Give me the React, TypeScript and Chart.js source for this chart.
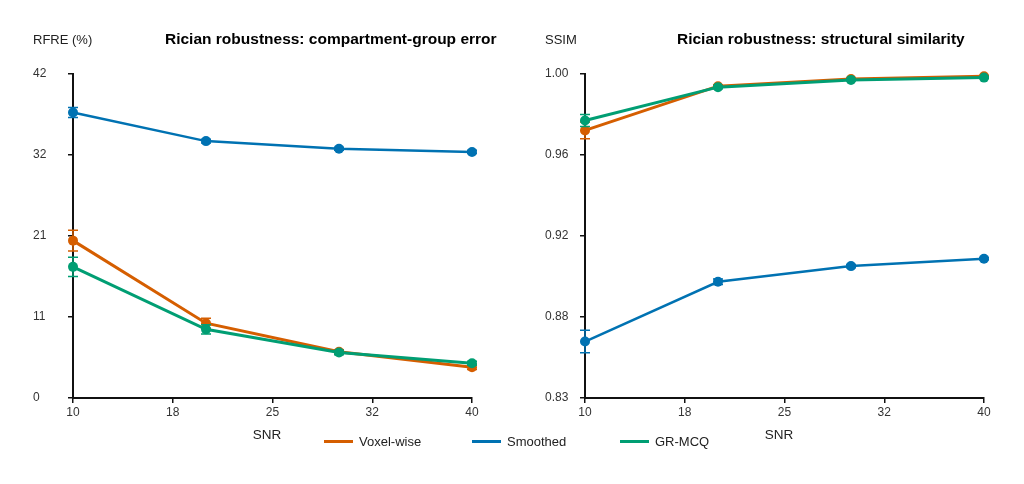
import React, { useEffect, useRef } from 'react';
import { Chart, registerables } from 'chart.js';

Chart.register(...registerables);

const FONT = '"Liberation Sans", Arial, sans-serif';

const snr = [10, 20, 30, 40];
const xTickValues = [10, 17.5, 25, 32.5, 40];
const xTickLabels = ['10', '18', '25', '32', '40'];

const seriesNames = ['Voxel-wise', 'Smoothed', 'GR-MCQ'];
const seriesColors = ['#D55E00', '#0072B2', '#009E73'];

// left panel: RFRE (%)
const rfreTickValues = [0, 10.5, 21, 31.5, 42];
const rfreTickLabels = ['0', '11', '21', '32', '42'];
const voxelRfre = [20.4, 9.7, 6.0, 4.0];
const voxelRfreErr = [1.33, 0.65, 0.25, 0.3];
const smoothedRfre = [37.0, 33.3, 32.3, 31.9];
const smoothedRfreErr = [0.65, 0.25, 0.2, 0.2];
const grRfre = [17.0, 8.9, 5.9, 4.5];
const grRfreErr = [1.25, 0.6, 0.3, 0.25];

// right panel: SSIM
const ssimTickValues = [0.83, 0.8725, 0.915, 0.9575, 1.0];
const ssimTickLabels = ['0.83', '0.88', '0.92', '0.96', '1.00'];
const voxelSsim = [0.9704, 0.9936, 0.9974, 0.9988];
const voxelSsimErr = [0.0044, 0.0008, 0.0005, 0.0004];
const smoothedSsim = [0.8596, 0.891, 0.8992, 0.9031];
const smoothedSsimErr = [0.0059, 0.0015, 0.0008, 0.0006];
const grSsim = [0.9756, 0.9931, 0.9969, 0.9981];
const grSsimErr = [0.0031, 0.0008, 0.0005, 0.0004];

// vertical error bars with caps, drawn right after each dataset
const errorBars = {
  id: 'errorBars',
  afterDatasetDraw(chart: any, args: any) {
    const ds = chart.data.datasets[args.index];
    if (!ds.errors) return;
    const y = chart.scales.y;
    const ctx = chart.ctx;
    ctx.save();
    ctx.strokeStyle = ds.borderColor;
    ctx.lineWidth = 1.5;
    args.meta.data.forEach((pt: any, i: number) => {
      const v = ds.data[i].y;
      const e = ds.errors[i];
      const top = y.getPixelForValue(v + e);
      const bot = y.getPixelForValue(v - e);
      ctx.beginPath();
      ctx.moveTo(pt.x, top);
      ctx.lineTo(pt.x, bot);
      ctx.moveTo(pt.x - 5, top);
      ctx.lineTo(pt.x + 5, top);
      ctx.moveTo(pt.x - 5, bot);
      ctx.lineTo(pt.x + 5, bot);
      ctx.stroke();
    });
    ctx.restore();
  },
};

// y label, panel title and x label placed like the original figure
const panelText = {
  id: 'panelText',
  afterDraw(chart: any, _args: any, opts: any) {
    const ctx = chart.ctx;
    ctx.save();
    ctx.textBaseline = 'middle';
    ctx.textAlign = 'left';
    ctx.fillStyle = '#222';
    ctx.font = `13px ${FONT}`;
    ctx.fillText(opts.yLabel, 33, 40);
    ctx.fillStyle = '#000';
    ctx.font = `bold 15.5px ${FONT}`;
    ctx.fillText(opts.title, 165, 40);
    ctx.fillStyle = '#222';
    ctx.textAlign = 'center';
    ctx.font = `13.5px ${FONT}`;
    ctx.fillText(opts.xLabel, 267, 435);
    ctx.restore();
  },
};

interface PanelProps {
  yLabel: string;
  title: string;
  values: number[][];
  errors: number[][];
  yMin: number;
  yMax: number;
  yTickValues: number[];
  yTickLabels: string[];
}

const Panel: React.FC<PanelProps> = ({ yLabel, title, values, errors, yMin, yMax, yTickValues, yTickLabels }) => {
  const canvasRef = useRef<HTMLCanvasElement>(null);

  useEffect(() => {
    if (!canvasRef.current) return;
    const datasets = seriesNames.map((name, s) => ({
      label: name,
      data: snr.map((x, i) => ({ x, y: values[s][i] })),
      errors: errors[s],
      borderColor: seriesColors[s],
      backgroundColor: seriesColors[s],
      pointBackgroundColor: seriesColors[s],
      pointBorderColor: seriesColors[s],
      pointRadius: 5,
      pointBorderWidth: 0,
      borderWidth: s === 1 ? 2.5 : 3,
      order: 3 - s,
      clip: false as any,
    }));

    const axisCommon = {
      grid: { display: true, drawOnChartArea: false, drawTicks: true, tickLength: 5, color: '#111', lineWidth: 1.5 },
      border: { display: true, color: '#111', width: 2 },
    };

    const chart = new Chart(canvasRef.current, {
      type: 'line',
      data: { datasets: datasets as any },
      options: {
        animation: false,
        responsive: false,
        layout: { padding: { left: 33, right: 40, top: 74, bottom: 56 } },
        plugins: {
          legend: { display: false },
          tooltip: { enabled: false },
          panelText: { yLabel, title, xLabel: 'SNR' },
        } as any,
        scales: {
          x: {
            type: 'linear',
            min: 10,
            max: 40,
            ...axisCommon,
            afterBuildTicks: (scale: any) => {
              scale.ticks = xTickValues.map((v) => ({ value: v }));
            },
            afterFit: (scale: any) => {
              scale.height = 30;
            },
            ticks: {
              padding: 2,
              color: '#333',
              font: { size: 12, family: FONT },
              maxRotation: 0,
              callback: (_v: any, i: number) => xTickLabels[i],
            },
          },
          y: {
            type: 'linear',
            min: yMin,
            max: yMax,
            ...axisCommon,
            afterBuildTicks: (scale: any) => {
              scale.ticks = yTickValues.map((v) => ({ value: v }));
            },
            afterFit: (scale: any) => {
              scale.width = 40;
            },
            ticks: {
              crossAlign: 'far',
              color: '#333',
              font: { size: 12, family: FONT },
              callback: (_v: any, i: number) => yTickLabels[i],
            },
          },
        },
      },
      plugins: [errorBars, panelText],
    });

    return () => {
      chart.destroy();
    };
  }, []);

  return <canvas ref={canvasRef} width={512} height={484} style={{ display: 'block' }} />;
};

const App: React.FC = () => {
  return (
    <div style={{ position: 'absolute', left: 0, top: 0, width: 1024, height: 484, background: '#fff', fontFamily: FONT }}>
      <div style={{ position: 'absolute', left: 0, top: 0 }}>
        <Panel
          yLabel="RFRE (%)"
          title="Rician robustness: compartment-group error"
          values={[voxelRfre, smoothedRfre, grRfre]}
          errors={[voxelRfreErr, smoothedRfreErr, grRfreErr]}
          yMin={0}
          yMax={42}
          yTickValues={rfreTickValues}
          yTickLabels={rfreTickLabels}
        />
      </div>
      <div style={{ position: 'absolute', left: 512, top: 0 }}>
        <Panel
          yLabel="SSIM"
          title="Rician robustness: structural similarity"
          values={[voxelSsim, smoothedSsim, grSsim]}
          errors={[voxelSsimErr, smoothedSsimErr, grSsimErr]}
          yMin={0.83}
          yMax={1.0}
          yTickValues={ssimTickValues}
          yTickLabels={ssimTickLabels}
        />
      </div>
      <div style={{ position: 'absolute', left: 324, top: 432, display: 'flex', fontSize: 13, color: '#222' }}>
        {seriesNames.map((name, s) => (
          <div key={name} style={{ width: 148, display: 'flex', alignItems: 'center', height: 18 }}>
            <span style={{ display: 'inline-block', width: 29, height: 3, background: seriesColors[s], marginRight: 6 }} />
            <span>{name}</span>
          </div>
        ))}
      </div>
    </div>
  );
};

export default App;
